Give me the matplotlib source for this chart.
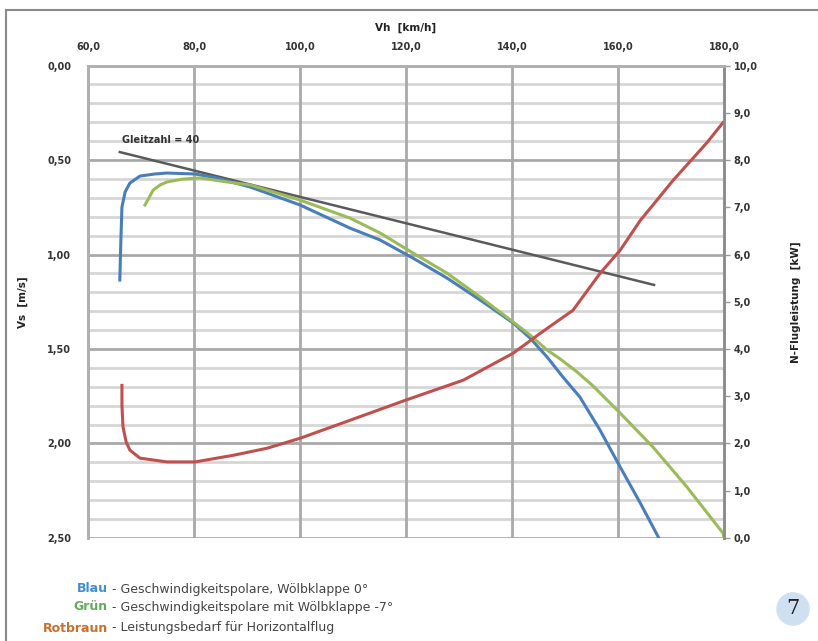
import numpy as np
import matplotlib.pyplot as plt
from matplotlib.ticker import FuncFormatter, MultipleLocator

# Geschwindigkeitspolare, Wölbklappe 0° (blau)
blau_vh = [66.0, 66.2, 66.4, 67.0, 67.9, 69.8, 72.6, 74.9, 80.2, 84.3, 90.6, 100.0,
           109.4, 115.1, 121.3, 127.7, 134.0, 140.2, 143.4, 146.6, 149.6, 152.8,
           156.6, 160.4, 164.2, 167.7]
blau_vs = [1.135, 0.923, 0.749, 0.669, 0.622, 0.585, 0.574, 0.569, 0.574, 0.595, 0.643, 0.738,
           0.860, 0.923, 1.019, 1.124, 1.241, 1.362, 1.442, 1.542, 1.648, 1.754,
           1.929, 2.124, 2.315, 2.500]

# Geschwindigkeitspolare mit Wölbklappe -7° (grün)
gruen_vh = [70.75, 72.3, 73.6, 74.9, 77.9, 81.1, 86.2, 90.6, 100.0, 109.4, 115.1, 121.3,
            127.7, 134.0, 140.2, 143.4, 146.6, 149.1, 152.3, 155.3, 160.4, 166.6,
            173.0, 179.8, 180.0]
gruen_vs = [0.738, 0.659, 0.632, 0.616, 0.601, 0.595, 0.616, 0.632, 0.712, 0.807, 0.886, 0.992,
            1.098, 1.225, 1.357, 1.426, 1.505, 1.553, 1.622, 1.696, 1.839, 2.019,
            2.230, 2.474, 2.500]

# Leistungsbedarf für Horizontalflug (rotbraun), kW
rot_vh = [66.4, 66.4, 66.6, 67.2, 67.9, 69.8, 74.9, 80.2, 87.4, 93.8, 100.0, 109.4,
          120.0, 130.8, 140.2, 145.3, 151.5, 156.6, 160.4, 164.2, 170.4, 176.8, 179.8]
rot_kw = [3.23, 2.81, 2.35, 2.03, 1.86, 1.69, 1.61, 1.61, 1.75, 1.90, 2.11, 2.49,
          2.92, 3.34, 3.91, 4.33, 4.82, 5.60, 6.09, 6.72, 7.57, 8.37, 8.79]

# Gleitzahl = 40
gleit_vh = [66.0, 166.8]
gleit_vs = [0.458, 1.161]

legende = [("Blau", "#3d8fd0", " - Geschwindigkeitspolare, Wölbklappe 0°"),
           ("Grün", "#5fae57", " - Geschwindigkeitspolare mit Wölbklappe -7°"),
           ("Rotbraun", "#c8702a", " - Leistungsbedarf für Horizontalflug")]

plt.rcParams['font.family'] = ['Liberation Sans Narrow', 'DejaVu Sans']


def komma(fmt):
    return FuncFormatter(lambda v, p: (fmt % v).replace('.', ','))


fig = plt.figure(figsize=(8.18, 6.41), dpi=100)
ax = fig.add_axes([0.1076, 0.1607, 0.7775, 0.7371])
ax2 = ax.twinx()

ax.set_xlim(60, 180)
ax.set_ylim(2.5, 0)
ax2.set_ylim(0, 10)

# grid
for v in np.arange(0, 2.51, 0.1):
    major = abs(v / 0.5 - round(v / 0.5)) < 1e-6
    ax.axhline(v, color='#a9a9a9' if major else '#d6d6d6', lw=2.0, zorder=0)
for v in range(80, 180, 20):
    ax.axvline(v, color='#a9a9a9', lw=2.0, zorder=0)

ax.plot(gleit_vh, gleit_vs, color='#5a5a5a', lw=1.8, zorder=3)
ax.plot(gruen_vh, gruen_vs, color='#9bbb59', lw=2.2, zorder=4)
ax.plot(blau_vh, blau_vs, color='#4a7ebb', lw=2.2, zorder=3)
ax2.plot(rot_vh, rot_kw, color='#c0504d', lw=2.2)
ax.text(66.4, 0.41, "Gleitzahl = 40", fontsize=7, color='#333333', fontweight='bold')

ax.xaxis.tick_top()
ax.xaxis.set_label_position('top')
ax.xaxis.set_major_locator(MultipleLocator(20))
ax.xaxis.set_major_formatter(komma('%.1f'))
ax.yaxis.set_major_locator(MultipleLocator(0.5))
ax.yaxis.set_major_formatter(komma('%.2f'))
ax2.yaxis.set_major_locator(MultipleLocator(1))
ax2.yaxis.set_minor_locator(MultipleLocator(0.5))
ax2.yaxis.set_major_formatter(komma('%.1f'))

ax.tick_params(axis='both', length=0, pad=12, labelsize=7, labelcolor='#333333')
ax.tick_params(axis='x', pad=10)
ax2.tick_params(axis='y', which='major', length=4, width=1, color='#999999',
                labelsize=7, labelcolor='#333333', pad=3)
ax2.tick_params(axis='y', which='minor', length=0)
for t in ax.get_xticklabels() + ax.get_yticklabels() + ax2.get_yticklabels():
    t.set_fontweight('bold')

ax.set_xlabel("Vh  [km/h]", fontsize=7.5, fontweight='bold', labelpad=8, color='#222222')
ax.set_ylabel("Vs  [m/s]", fontsize=7.5, fontweight='bold', labelpad=14, color='#222222')
ax2.set_ylabel("N-Flugleistung  [kW]", fontsize=7.5, fontweight='bold', labelpad=24,
               color='#222222')

for a in (ax, ax2):
    for s in a.spines.values():
        s.set_color('#b0b0b0')
        s.set_linewidth(2)
    a.spines['bottom'].set_visible(False)
ax2.spines['right'].set_color('#8c8c8c')
ax.set_facecolor('white')

# page frame
fig.add_artist(plt.Line2D([0.0073, 0.0073], [0, 0.985], color='#8a8a8a', lw=1.5))
fig.add_artist(plt.Line2D([0.0073, 1.0], [0.985, 0.985], color='#8a8a8a', lw=1.5))

# legend text
ys = [589, 607, 628]
for (wort, farbe, rest), y in zip(legende, ys):
    fy = 1 - y / 641
    fig.text(108 / 818, fy, wort, ha='right', va='center', fontsize=9,
             color=farbe, fontweight='bold')
    fig.text(108 / 818, fy, rest, ha='left', va='center', fontsize=9, color='#444444')

fig.text(793 / 818, 1 - 609 / 641, "7", ha='center', va='center', fontsize=15,
         color='#222222', family='DejaVu Serif',
         bbox=dict(boxstyle='circle,pad=0.35', fc='#cfe0f2', ec='none'))

fig.savefig('out.png', dpi=100)
